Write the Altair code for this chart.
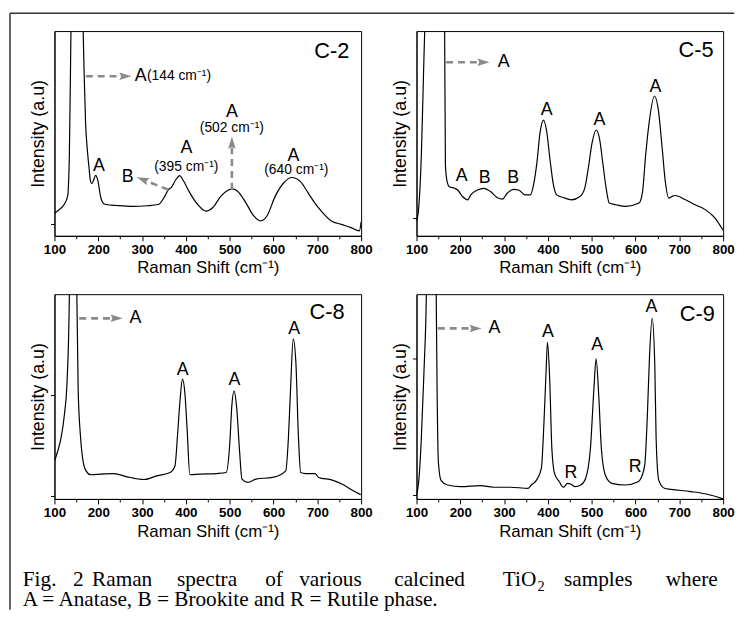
import altair as alt
import pandas as pd

# ---------------- spectra (x = Raman shift, y = relative intensity, 0-100 = plot height) ----------------
c2_x = [100, 112, 122, 130, 134, 137.6, 144, 152, 160, 165.5, 167.7, 171, 175, 179, 182, 185, 189, 194, 199, 205, 211, 217,
        243, 280, 311, 337, 352, 360, 367, 377, 386, 393, 409, 427, 446, 461, 480, 495, 505, 518, 537, 555, 570, 585,
        604, 623, 642, 661, 679, 694, 709, 732, 755, 777, 796, 800]
c2_y = [11.0, 13.0, 15.3, 19.4, 40, 100, 200, 190, 140, 100, 79, 55, 42, 33, 27, 25.5, 27, 29.5, 27, 19.4, 16, 15.3,
        14.8, 14.4, 14.7, 15.3, 19.4, 22.6, 23.7, 27.4, 29.4, 27.4, 21, 15.3, 12.1, 13.7, 19.4, 22.1, 22.9, 21.8, 16.1, 9.7, 7.3, 9.7,
        19.4, 25.8, 28.5, 26.6, 21, 16.1, 12.1, 7.3, 5.6, 4.0, 2.4, 6.8]

c5_x = [100, 105, 111, 117, 120, 130, 145, 158, 164, 166, 170, 175, 187, 194, 205, 217, 224, 239, 254, 269, 284, 296, 307,
        322, 333, 348, 360, 367, 375, 382, 390, 397, 405, 412, 420, 435, 454, 473, 484, 492, 501, 510, 518, 525, 533, 540,
        555, 578, 608, 616, 623, 631, 643, 652, 661, 668, 676, 683, 691, 714, 736, 759, 781, 800]
c5_y = [7.2, 13.6, 39.2, 87.2, 110, 250, 300, 200, 110, 34.4, 26.4, 24, 23.2, 22.4, 19.2, 17.6, 20, 22.4, 23.2, 21.6, 18.7, 17.9, 20.8,
        22.7, 22.4, 20, 20, 24.8, 36, 50.4, 56.5, 51.2, 36.8, 25.6, 20, 18.7, 17.6, 19.2, 23.2, 32.8, 45.6, 51.7, 47.2, 36, 23.2, 16,
        15.2, 14.4, 16, 21.6, 39.2, 55.2, 68.3, 61.6, 42.4, 26.4, 18.4, 19.2, 19.7, 17.6, 15.2, 12.8, 8.8, 2.7]

c8_x = [100, 107.5, 115, 122.6, 128.7, 134, 140, 148, 151, 154, 159, 164, 172, 183, 206, 236, 266, 304, 334, 364, 375, 381,
        387, 392, 398, 403, 409, 432, 470, 492, 500, 505, 510, 516, 522, 528, 541, 560, 598, 628, 634, 639, 645, 651, 657,
        662, 673, 695, 703, 734, 756, 779, 799]
c8_y = [18.5, 23.4, 29.8, 41.1, 57.3, 100, 250, 200, 100, 54, 31.5, 20.2, 13.7, 11.8, 12.1, 12.4, 10.8, 9.5, 11.3, 12.9, 16.1, 31.5,
        49.2, 58.5, 50.8, 33.1, 11.8, 12.1, 12.4, 12.9, 26.6, 46, 52.7, 44.4, 25, 9.7, 8.1, 9.7, 10.5, 13.7, 29.8, 54, 78.2, 66.9, 29.8,
        12.9, 12.4, 12.4, 10.5, 9.2, 7.3, 4.4, 2.1]

c9_x = [100, 105, 111, 117, 122.5, 130, 140, 145, 147, 150, 156, 171, 201, 246, 276, 314, 355, 362, 374, 385, 391, 396, 399,
        404, 409, 415, 426, 435, 445, 452, 462, 475, 486, 497, 505, 510, 516, 522, 531, 546, 576, 606, 612, 621, 627, 632,
        638, 644, 647, 653, 666, 681, 726, 764, 800]
c9_y = [1.9, 8.4, 29.5, 61.9, 100, 250, 200, 100, 53.5, 17.8, 9.1, 6.8, 6.0, 6.5, 5.7, 5.7, 5.2, 6.8, 9.2, 14.9, 37.6, 63.5, 76.5,
        58.7, 24.6, 12.5, 8.4, 5.7, 7.6, 7.3, 6.0, 6.8, 10, 24.6, 53.8, 68.4, 50.6, 24.6, 11.7, 7.6, 6.8, 8.4, 10, 16.5, 40.8, 70,
        88.2, 65.2, 29.5, 9.2, 5.2, 4.7, 3.6, 2.3, 0]

# y-axis tick positions (same units)
c2_yticks = [5.6]
c5_yticks = [8.8]
c8_yticks = [1.6, 50.8]
c9_yticks = [1.9, 68.4]

# ---------------- annotations ----------------
names = ["C-2", "C-5", "C-8", "C-9"]
name_x = [733, 738, 722, 741]
name_y = [90.4, 90.7, 91.1, 90.3]

# big phase letters (centred)
c2_let = (["A", "B", "A", "A", "A"], [201.6, 267, 401, 505, 645.7], [33.9, 28.7, 42.7, 60.5, 39.0])
c5_let = (["A", "A", "B", "B", "A", "A", "A"], [299, 203, 255.8, 320.5, 397, 517.7, 645.7], [84.8, 29.3, 28, 28, 61.3, 56.5, 72.8])
c8_let = (["A", "A", "A", "A"], [285, 392.8, 511, 647], [88.2, 62.9, 58, 83.1])
c9_let = (["A", "A", "A", "A", "R", "R"], [278, 400, 512.6, 636.4, 452.6, 599], [83.3, 81.7, 75.2, 93.5, 12.5, 15.8])

# C-2 "A(144 cm-1)" label (left aligned pieces)
c2_a144 = (["A"], [283], [77.9])
c2_a144_note = (["(144 cm⁻¹)"], [311], [77.9])
# wavenumber notes (C-2, centred)
c2_note = (["(395 cm⁻¹)", "(502 cm⁻¹)", "(640 cm⁻¹)"], [401, 505, 652], [33.5, 52.4, 32.2])

# dashed arrows: x, y, x2, y2, head x, head y, head angle
c2_arr = ([171.6, 359.7, 505], [77.9, 22.5, 22.5], [250, 312, 505], [77.9, 26.6, 43], [262, 301, 505], [77.9, 27.5, 45.5], [0, 201, 270])
c5_arr = ([167.7], [84.8], [242], [84.8], [253], [84.8], [0])
c8_arr = ([156.6], [88.2], [231], [88.2], [242], [88.2], [0])
c9_arr = ([148.8], [83.3], [224], [83.3], [235], [83.3], [0])

caption_words = ["Fig.", "2", "Raman", "spectra", "of", "various", "calcined", "TiO", "samples", "where"]
caption_x_abs = [21.7, 72.5, 91.7, 177.5, 266.8, 301.1, 397.2, 507, 568.8, 671.7]
caption_line2 = "A  = Anatase, B = Brookite and R  = Rutile phase."

FONT = "Liberation Sans"
SERIF = "Liberation Serif"
GREY = "#8a8a8a"
ARROW = "M-1,-0.62L1,0L-1,0.62L-0.7,0Z"
W, H = 310, 207
ORIGIN_X, ORIGIN_Y = 53.75, 26.75   # where the C-2 plot area lands on the page
TOP_REL = -18

XS = alt.Scale(domain=[100, 800], nice=False, zero=False)
YS = alt.Scale(domain=[0, 100], nice=False, zero=False)

X_AXIS = alt.Axis(
    values=list(range(100, 801, 50)),
    labelExpr="datum.value % 100 === 0 ? datum.label : ''",
    tickSize={"condition": {"test": "datum.value % 100 === 0", "value": 5}, "value": 3},
    labelFont=FONT, labelFontSize=13.5, labelFontWeight="bold", labelColor="black",
    labelPadding=2, labelFlush=False, labelOverlap=False, labelBound=False,
    title="Raman Shift (cm⁻¹)", titleFont=FONT, titleFontSize=17, titleFontWeight="normal",
    titleColor="black", titlePadding=4,
    domainColor="black", tickColor="black", grid=False,
)


def y_axis(ticks):
    return alt.Axis(
        values=ticks, labels=False, tickSize=4, tickColor="black", domainColor="black", grid=False,
        title="Intensity (a.u)", titleFont=FONT, titleFontSize=18, titleFontWeight="normal",
        titleColor="black", titlePadding=3,
    )


def panel(xv, yv, ticks, idx, letters, arrows, notes=(), extras=()):
    YA = y_axis(ticks)

    def enc(ch, **kw):
        return ch.encode(x=alt.X("x:Q", scale=XS, axis=X_AXIS),
                         y=alt.Y("y:Q", scale=YS, axis=YA), **kw)

    layers = [enc(alt.Chart(pd.DataFrame({"x": xv, "y": yv})).mark_line(
        color="black", strokeWidth=1.2, clip=True, interpolate="monotone"))]

    ax, ay, ax2, ay2, hx, hy, ha = arrows
    layers.append(enc(alt.Chart(pd.DataFrame({"x": ax, "y": ay, "x2": ax2, "y2": ay2})).mark_rule(
        color=GREY, strokeWidth=2.6, strokeDash=[7, 5]), x2="x2:Q", y2="y2:Q"))
    layers.append(enc(alt.Chart(pd.DataFrame({"x": hx, "y": hy, "a": ha})).mark_point(
        shape=ARROW, filled=True, size=150, color=GREY, opacity=1, strokeWidth=0),
        angle=alt.Angle("a:Q", scale=None)))

    def txt(group, size, align="center"):
        t, x, y = group
        return enc(alt.Chart(pd.DataFrame({"x": x, "y": y, "t": t})).mark_text(
            font=FONT, fontSize=size, baseline="middle", align=align, color="black"), text="t:N")

    layers.append(txt(letters, 18))
    for grp, size, align in notes:
        layers.append(txt(grp, size, align))
    layers.append(txt(([names[idx]], [name_x[idx]], [name_y[idx]]), 22))
    layers.extend(extras)
    return alt.layer(*layers).properties(width=W, height=H)


# page decorations (figure frame + caption) drawn relative to the C-2 plot area
one = pd.DataFrame({"k": [0]})
frame_left = alt.Chart(one).mark_rule(color="#333", strokeWidth=1.5).encode(
    x=alt.value(-45), y=alt.value(TOP_REL), y2=alt.value(585))
frame_top = alt.Chart(one).mark_rule(color="#333", strokeWidth=1.5).encode(
    x=alt.value(-45), x2=alt.value(741 - ORIGIN_X), y=alt.value(TOP_REL))
cap_words = [
    alt.Chart(one).mark_text(font=SERIF, fontSize=21.5, align="left", baseline="alphabetic",
                             color="black", text=w).encode(
        x=alt.value(px - ORIGIN_X), y=alt.value(588 - ORIGIN_Y))
    for w, px in zip(caption_words, caption_x_abs)
]
cap_sub = alt.Chart(one).mark_text(
    font=SERIF, fontSize=14.5, align="left", baseline="alphabetic", color="black", text="2"
).encode(x=alt.value(542 - ORIGIN_X), y=alt.value(592.5 - ORIGIN_Y))
cap2 = alt.Chart(one).mark_text(
    font=SERIF, fontSize=21.5, align="left", baseline="alphabetic", color="black", text=caption_line2
).encode(x=alt.value(21.7 - ORIGIN_X), y=alt.value(607.5 - ORIGIN_Y))

p2 = panel(c2_x, c2_y, c2_yticks, 0, c2_let, c2_arr,
           notes=[(c2_note, 14, "center"), (c2_a144, 18, "left"), (c2_a144_note, 14, "left")],
           extras=[frame_left, frame_top, *cap_words, cap_sub, cap2])
p5 = panel(c5_x, c5_y, c5_yticks, 1, c5_let, c5_arr)
p8 = panel(c8_x, c8_y, c8_yticks, 2, c8_let, c8_arr)
p9 = panel(c9_x, c9_y, c9_yticks, 3, c9_let, c9_arr)

chart = alt.ConcatChart(
    concat=[p2, p5, p8, p9], columns=2, spacing={"row": 59, "column": 56}, bounds="flush"
).properties(padding=0, background="white").configure(padding=0).configure_view(
    stroke="black", strokeWidth=1)

chart.save("out.html", embed_options={"renderer": "svg", "actions": False})
